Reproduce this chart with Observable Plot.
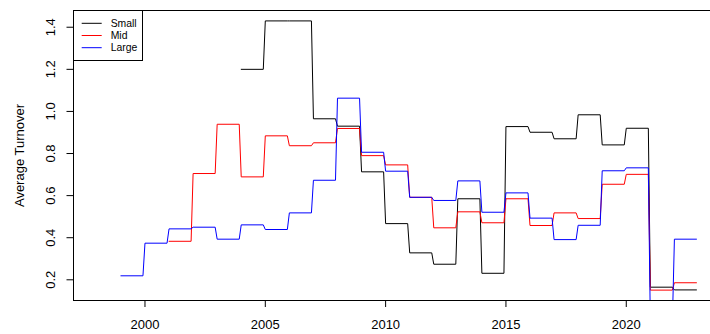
<!DOCTYPE html>
<html>
<head>
<meta charset="utf-8">
<script src="https://cdn.jsdelivr.net/npm/d3@7"></script>
<script src="https://cdn.jsdelivr.net/npm/@observablehq/plot@0.6"></script>
<style>
  html, body { margin: 0; padding: 0; background: #fff; overflow: hidden; }
  #chart svg { display: block; }
</style>
</head>
<body>
<div id="chart"></div>
<script>
const years = [1999, 2000, 2001, 2002, 2003, 2004, 2005, 2006, 2007, 2008, 2009, 2010,
               2011, 2012, 2013, 2014, 2015, 2016, 2017, 2018, 2019, 2020, 2021, 2022];
const small = [null, null, null, null, null, 1.20, 1.43, 1.43, 0.965, 0.930, 0.713, 0.467,
               0.328, 0.274, 0.585, 0.231, 0.928, 0.901, 0.870, 0.984, 0.841, 0.920, 0.165, 0.152];
const mid   = [null, null, 0.383, 0.705, 0.939, 0.689, 0.884, 0.837, 0.851, 0.919, 0.790, 0.746,
               0.592, 0.447, 0.523, 0.471, 0.585, 0.458, 0.518, 0.491, 0.654, 0.701, 0.151, 0.186];
const large = [0.219, 0.374, 0.442, 0.450, 0.393, 0.461, 0.439, 0.518, 0.673, 1.063, 0.806, 0.716,
               0.592, 0.577, 0.670, 0.521, 0.613, 0.493, 0.391, 0.459, 0.718, 0.732, 0.0, 0.393];
const seriesNames = ["Small", "Mid", "Large"];
const seriesColors = ["#000000", "#ff0000", "#0000ff"];
const xTicks = [2000, 2005, 2010, 2015, 2020];
const yTicks = [0.2, 0.4, 0.6, 0.8, 1.0, 1.2, 1.4];
const yTitle = "Average Turnover";

// monthly observations: each yearly value held from January to December
function toRows(name, values) {
  const rows = [];
  values.forEach((v, i) => {
    if (v == null) return;
    rows.push({series: name, x: years[i], y: v});
    rows.push({series: name, x: years[i] + 11 / 12, y: v});
  });
  return rows;
}
const seriesValues = [small, mid, large];
const tables = seriesNames.map((n, i) => toRows(n, seriesValues[i]));

const xDomain = [1997.03, 2023.5];
const yDomain = [0.1017, 1.4795];

const plot = Plot.plot({
  width: 710,
  height: 334,
  marginLeft: 73,
  marginRight: 0,
  marginTop: 10,
  marginBottom: 34,
  style: {fontFamily: "'Liberation Sans', Arial, Helvetica, sans-serif", fontSize: "13px", color: "#000", background: "#fff"},
  x: {domain: xDomain},
  y: {domain: yDomain},
  marks: [
    ...tables.map((t, i) => Plot.line(t, {x: "x", y: "y", stroke: seriesColors[i], strokeWidth: 1, clip: true})),
    Plot.ruleY([yDomain[1]], {stroke: "#000", strokeWidth: 1}),
    Plot.ruleY([yDomain[0]], {stroke: "#000", strokeWidth: 1}),
    Plot.ruleX([xDomain[0]], {stroke: "#000", strokeWidth: 1}),
    Plot.axisX({ticks: xTicks, tickSize: 7, tickPadding: 12, fontSize: 13, tickFormat: d => String(d), label: null}),
    Plot.axisY({ticks: yTicks, tickSize: 6.5, tickPadding: 12, tickRotate: -90, fontSize: 13,
                tickFormat: d => d.toFixed(1), label: null}),
    Plot.text([yTitle], {frameAnchor: "left", dx: -49.5, rotate: -90, lineAnchor: "bottom",
                         textAnchor: "middle", fontSize: 13})
  ]
});
document.getElementById("chart").appendChild(plot);

// legend box in the top-left corner of the plot
const svg = d3.select(plot);
const lg = svg.append("g").attr("font-size", 10.4).attr("text-anchor", "start")
  .attr("font-family", "'Liberation Sans', Arial, Helvetica, sans-serif");
lg.append("rect").attr("x", 73.5).attr("y", 10.5).attr("width", 69).attr("height", 50)
  .attr("fill", "#fff").attr("stroke", "#000").attr("stroke-width", 1);
seriesNames.forEach((n, i) => {
  const y = 23.3 + i * 12.2;
  lg.append("line").attr("x1", 81.7).attr("x2", 101.7).attr("y1", y).attr("y2", y)
    .attr("stroke", seriesColors[i]).attr("stroke-width", 1);
  lg.append("text").attr("x", 110.7).attr("y", y + 3.7).attr("fill", "#000")
    .attr("text-anchor", "start").text(n);
});
</script>
</body>
</html>
